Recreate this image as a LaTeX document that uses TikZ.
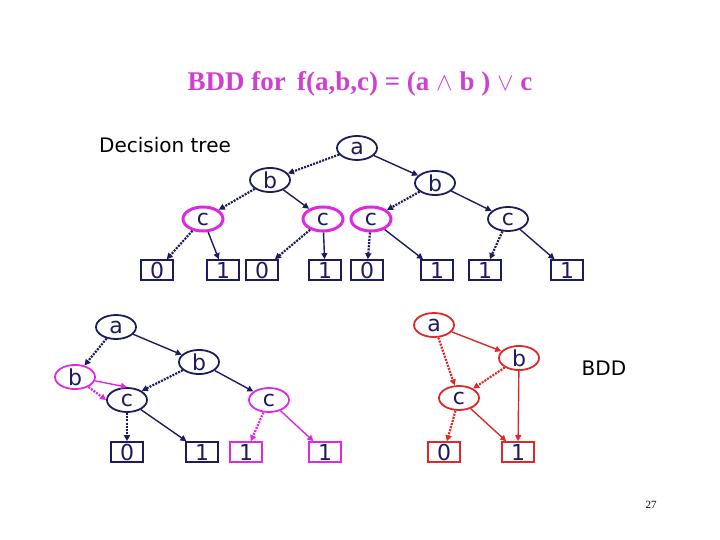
\documentclass[tikz,border=0pt]{standalone}
\usepackage{fontspec}
\setmainfont{Liberation Serif}
\newfontfamily\nf{DejaVu Sans}
\usetikzlibrary{shapes.geometric,arrows.meta}
\definecolor{nv}{HTML}{1C1C5C}
\definecolor{mg}{HTML}{E028E0}
\definecolor{rd}{HTML}{E02828}
\definecolor{tc}{HTML}{D040D0}
\begin{document}
\begin{tikzpicture}[x=1pt,y=-1pt,
 el/.style={ellipse,draw=#1,line width=1.8pt,minimum width=40pt,minimum height=24pt,inner sep=0pt,font=\nf\fontsize{22}{22}\selectfont,text=nv},
 el/.default=nv,
 elm/.style={el=mg,line width=3pt},
 lf/.style={rectangle,draw=#1,line width=1.6pt,minimum width=32pt,minimum height=20pt,inner sep=0pt,font=\nf\fontsize{22}{22}\selectfont,text=nv},
 lf/.default=nv,
 hi/.style={draw=#1,line width=1.4pt,-{Triangle[length=6pt,width=6pt]}},
 hi/.default=nv,
 lo/.style={draw=#1,line width=2.2pt,dash pattern=on 2pt off 1.2pt,-{Triangle[length=6pt,width=6pt]}},
 lo/.default=nv]
\useasboundingbox (0,0) rectangle (720,540);
\node[text=tc,font=\bfseries\fontsize{27}{28}\selectfont] (t) at (360,84) {BDD for\, f(a,b,c) = (a $\wedge$ b ) $\vee$ c};
\node[font=\nf\fontsize{20}{20}\selectfont] (dt) at (165,145) {Decision tree};
% top tree
\node[el] (a) at (357,148) {a};
\node[el] (b1) at (270,180) {b};
\node[el] (b2) at (435,183) {b};
\node[elm] (c1) at (203,219) {c};
\node[elm] (c2) at (323,219) {c};
\node[elm] (c3) at (371,219) {c};
\node[el] (c4) at (508,219) {c};
\foreach \x/\v [count=\i] in {157/0,223/1,262/0,325/1,367/0,437/1,485/1,567/1}
  \node[lf] (l\i) at (\x,270) {\v};
\draw[lo] (a) -- (b1); \draw[hi] (a) -- (b2);
\draw[lo] (b1) -- (c1); \draw[hi] (b1) -- (c2);
\draw[lo] (b2) -- (c3); \draw[hi] (b2) -- (c4);
\draw[lo] (c1) -- (l1); \draw[hi] (c1) -- (l2);
\draw[lo] (c2) -- (l3); \draw[hi] (c2) -- (l4);
\draw[lo] (c3) -- (l5); \draw[hi] (c3) -- (l6);
\draw[lo] (c4) -- (l7); \draw[hi] (c4) -- (l8);
% bottom left
\node[el] (ba) at (116,327) {a};
\node[el=mg] (bb1) at (75,377) {b};
\node[el] (bb2) at (199,362) {b};
\node[el] (bc1) at (127,400) {c};
\node[el=mg] (bc2) at (269,400) {c};
\node[lf] (bl1) at (127,452) {0};
\node[lf] (bl2) at (202,452) {1};
\node[lf=mg] (bl3) at (246,452) {1};
\node[lf=mg] (bl4) at (325,452) {1};
\draw[lo] (ba) -- (bb1); \draw[hi] (ba) -- (bb2);
\draw[lo=mg] (bb1) -- (bc1.west); \draw[hi=mg] (bb1) -- (bc1.north);
\draw[lo] (bb2) -- (bc1.north east); \draw[hi] (bb2) -- (bc2);
\draw[lo] (bc1) -- (bl1); \draw[hi] (bc1) -- (bl2);
\draw[lo=mg] (bc2) -- (bl3); \draw[hi=mg] (bc2) -- (bl4);
% BDD
\node[el=rd] (ra) at (434,325) {a};
\node[el=rd] (rb) at (519,358) {b};
\node[el=rd] (rc) at (459,398) {c};
\node[lf=rd] (r0) at (444,452) {0};
\node[lf=rd] (r1) at (518,452) {1};
\draw[lo=rd] (ra) -- (rc); \draw[hi=rd] (ra) -- (rb);
\draw[lo=rd] (rb) -- (rc); \draw[hi=rd] (rb) -- (r1);
\draw[lo=rd] (rc) -- (r0); \draw[hi=rd] (rc) -- (r1);
\node[font=\nf\fontsize{20}{20}\selectfont] (bdd) at (604,368) {BDD};
\node[font=\fontsize{11}{11}\selectfont] (pg) at (651,505) {27};
\end{tikzpicture}
\end{document}
